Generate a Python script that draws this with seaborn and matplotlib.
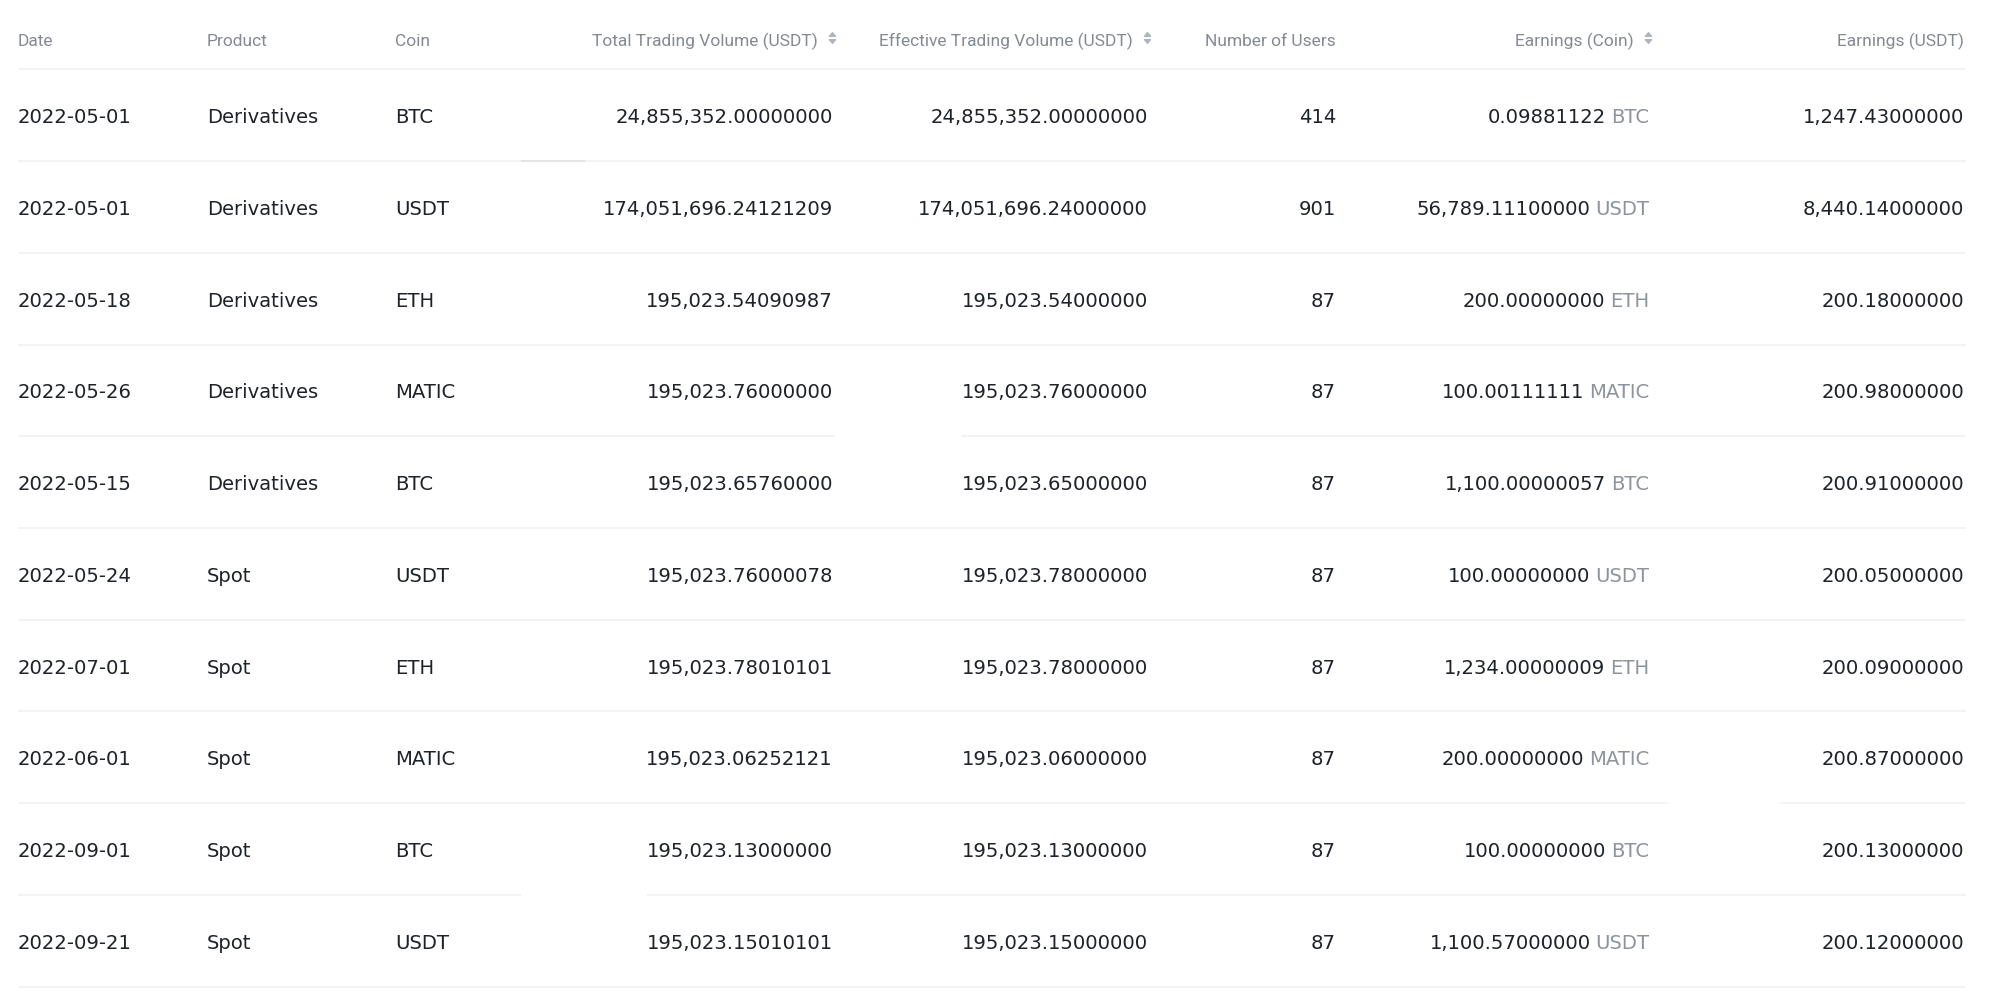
import matplotlib
matplotlib.use("Agg")
import matplotlib.pyplot as plt
from matplotlib.path import Path
from decimal import Decimal
import pandas as pd
import seaborn as sns

# ---------------- data ----------------
columns = ["Date", "Product", "Coin", "Total Trading Volume (USDT)",
           "Effective Trading Volume (USDT)", "Number of Users",
           "Earnings (Coin)", "Earnings (USDT)"]
sortable = [False, False, False, True, True, False, True, False]

dates = ["2022-05-01", "2022-05-01", "2022-05-18", "2022-05-26", "2022-05-15",
         "2022-05-24", "2022-07-01", "2022-06-01", "2022-09-01", "2022-09-21"]
products = ["Derivatives", "Derivatives", "Derivatives", "Derivatives", "Derivatives",
            "Spot", "Spot", "Spot", "Spot", "Spot"]
coins = ["BTC", "USDT", "ETH", "MATIC", "BTC", "USDT", "ETH", "MATIC", "BTC", "USDT"]
total_volume = ["24855352.00000000", "174051696.24121209", "195023.54090987",
                "195023.76000000", "195023.65760000", "195023.76000078",
                "195023.78010101", "195023.06252121", "195023.13000000",
                "195023.15010101"]
effective_volume = ["24855352.00", "174051696.24", "195023.54", "195023.76",
                    "195023.65", "195023.78", "195023.78", "195023.06",
                    "195023.13", "195023.15"]
num_users = [414, 901, 87, 87, 87, 87, 87, 87, 87, 87]
earnings_coin = ["0.09881122", "56789.111", "200", "100.00111111", "1100.00000057",
                 "100", "1234.00000009", "200", "100", "1100.57"]
earnings_usdt = ["1247.43", "8440.14", "200.18", "200.98", "200.91", "200.05",
                 "200.09", "200.87", "200.13", "200.12"]

df = pd.DataFrame({
    "Date": dates, "Product": products, "Coin": coins,
    "Total": [Decimal(v) for v in total_volume],
    "Effective": [Decimal(v) for v in effective_volume],
    "Users": num_users,
    "EarnCoin": [Decimal(v) for v in earnings_coin],
    "EarnUSDT": [Decimal(v) for v in earnings_usdt],
})

# ---------------- layout / style ----------------
W, H, DPI = 1990, 1006, 100
ROW0_PX, PITCH_PX = 115.17, 91.74          # centre of first row, row pitch (px)
col_x = [18, 207, 395, 833, 1148, 1336, 1649, 1964]
col_ha = ["left", "left", "left", "right", "right", "right", "right", "right"]
line_x0, line_x1 = 18, 1966
gaps = {3: (835, 961), 7: (1668, 1780), 8: (521, 647)}   # missing pieces of dividers
dark_piece = {0: (521, 585)}

TEXT_C = "#1e2329"
HEAD_C = "#848a93"
SUFFIX_C = "#8e949b"
LINE_C = "#eff0f2"
ICON_C = "#aeb4bc"

sns.set_theme(style="white")
plt.rcParams["font.family"] = ["DejaVu Sans"]

fig = plt.figure(figsize=(W / DPI, H / DPI), dpi=DPI, facecolor="white")
ax = fig.add_axes([0, 0, 1, 1])
ax.set_xlim(0, W)
ax.set_ylim((H - ROW0_PX) / PITCH_PX, -ROW0_PX / PITCH_PX)
ax.axis("off")

BODY_FS = 14.1
HEAD_FS = 12.5
HEAD_FONT = ["Roboto", "DejaVu Sans"]
BASE_OFF = 0.088
HEAD_Y = -0.757

tri_up = Path([(-1, -0.6), (1, -0.6), (0, 0.6), (-1, -0.6)],
              [Path.MOVETO, Path.LINETO, Path.LINETO, Path.CLOSEPOLY])
tri_dn = Path([(-1, 0.6), (1, 0.6), (0, -0.6), (-1, 0.6)],
              [Path.MOVETO, Path.LINETO, Path.LINETO, Path.CLOSEPOLY])

# header
for j, (name, x, ha, srt) in enumerate(zip(columns, col_x, col_ha, sortable)):
    hx = x - 15 if srt else x
    ax.text(hx, HEAD_Y, name, ha=ha, va="baseline", fontsize=HEAD_FS,
            color=HEAD_C, family=HEAD_FONT)
    if srt:
        ax.plot([x - 1.5], [-0.884], marker=tri_up, markersize=4.4,
                color=ICON_C, linestyle="none")
        ax.plot([x - 1.5], [-0.808], marker=tri_dn, markersize=4.4,
                color=ICON_C, linestyle="none")

# dividers
ax.hlines(-0.5, line_x0, line_x1, color=LINE_C, lw=1.1)
for i in range(len(df)):
    y = i + 0.5
    if i in gaps:
        g0, g1 = gaps[i]
        ax.hlines(y, line_x0, g0, color=LINE_C, lw=1.1)
        ax.hlines(y, g1, line_x1, color=LINE_C, lw=1.1)
    else:
        ax.hlines(y, line_x0, line_x1, color=LINE_C, lw=1.1)
    if i in dark_piece:
        d0, d1 = dark_piece[i]
        ax.hlines(y, d0, d1, color="#e2e3e5", lw=1.3)


def fmt(d):
    return f"{d:,.8f}"


# body rows
for i, row in df.iterrows():
    yb = i + BASE_OFF
    kw = dict(va="baseline", fontsize=BODY_FS, color=TEXT_C)
    ax.text(col_x[0], yb, row["Date"], ha="left", **kw)
    ax.text(col_x[1], yb, row["Product"], ha="left", **kw)
    ax.text(col_x[2], yb, row["Coin"], ha="left", **kw)
    ax.text(col_x[3], yb, fmt(row["Total"]), ha="right", **kw)
    ax.text(col_x[4], yb, fmt(row["Effective"]), ha="right", **kw)
    ax.text(col_x[5], yb, f"{row['Users']:,}", ha="right", **kw)
    suf = ax.text(col_x[6], yb, row["Coin"], ha="right", va="baseline",
                  fontsize=BODY_FS, color=SUFFIX_C)
    ax.annotate(fmt(row["EarnCoin"]), xy=(0, yb), xycoords=(suf, "data"),
                xytext=(-3.2, 0), textcoords="offset points",
                ha="right", va="baseline", fontsize=BODY_FS, color=TEXT_C)
    ax.text(col_x[7], yb, fmt(row["EarnUSDT"]), ha="right", **kw)

fig.savefig("out.png", dpi=DPI, facecolor="white")
